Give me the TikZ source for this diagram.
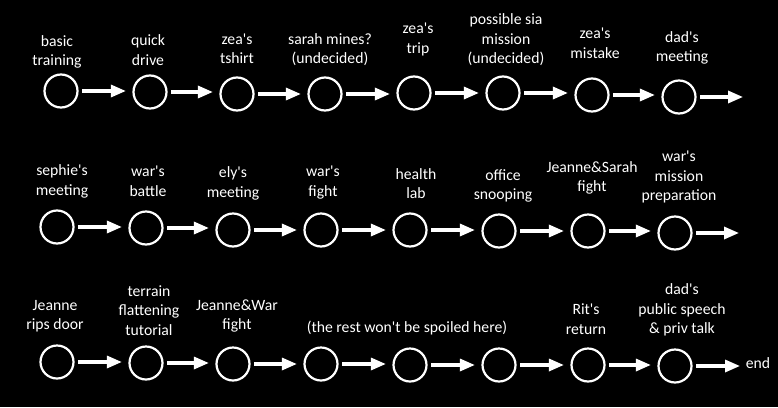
\documentclass[tikz,border=0pt]{standalone}
\usepackage{fontspec}
\setmainfont{Carlito}
\usetikzlibrary{arrows.meta}
\newcommand\aps{\textquotesingle}
\begin{document}
\begin{tikzpicture}[x=1pt,y=-1pt,
  circ/.style={circle,draw=white,line width=2.2pt,minimum size=33pt,inner sep=0pt},
  lbl/.style={text=white,align=center,inner sep=0pt,font=\fontsize{15.7pt}{19.5pt}\selectfont},
  arr/.style={draw=white,line width=3.2pt,-{Triangle[length=15pt,width=12pt]},shorten <=3.5pt,shorten >=6.5pt},
  arrend/.style={draw=white,line width=3.2pt,-{Triangle[length=15pt,width=12pt]},shorten <=3.5pt}]
\fill[black] (0,0) rectangle (778,407);
\useasboundingbox (0,0) rectangle (778,407);
% row 1
\node[circ] (a1) at (61,91) {};
\node[circ] (a2) at (150,92) {};
\node[circ] (a3) at (237,94) {};
\node[circ] (a4) at (325,94) {};
\node[circ] (a5) at (414,93) {};
\node[circ] (a6) at (503,93) {};
\node[circ] (a7) at (592,95) {};
\node[circ] (a8) at (679,97) {};
\coordinate (ae) at (743,97);
\node[lbl] (la1) at (57,52) {basic\\training};
\node[lbl] (la2) at (148,50) {quick\\drive};
\node[lbl] (la3) at (237,49) {zea\aps s\\tshirt};
\node[lbl] (la4) at (330,49.5) {sarah mines?\\(undecided)};
\node[lbl] (la5) at (418,39.5) {zea\aps s\\trip};
\node[lbl] (la6) at (506,40) {possible sia\\mission\\(undecided)};
\node[lbl] (la7) at (595,43.5) {zea\aps s\\mistake};
\node[lbl] (la8) at (682,48) {dad\aps s\\meeting};
\foreach \i/\j in {1/2,2/3,3/4,4/5,5/6,6/7,7/8} \draw[arr] (a\i.east) -- (a\i.east -| a\j.west);
\draw[arrend] (a8.east) -- (ae);
% row 2
\node[circ] (b1) at (57,227) {};
\node[circ] (b2) at (146,228) {};
\node[circ] (b3) at (233,230) {};
\node[circ] (b4) at (321,230) {};
\node[circ] (b5) at (410,230) {};
\node[circ] (b6) at (499,231) {};
\node[circ] (b7) at (588,231) {};
\node[circ] (b8) at (675,233) {};
\coordinate (be) at (739,233);
\node[lbl] (lb1) at (62,181.5) {sephie\aps s\\meeting};
\node[lbl] (lb2) at (148,181.5) {war\aps s\\battle};
\node[lbl] (lb3) at (233,183.5) {ely\aps s\\meeting};
\node[lbl] (lb4) at (323,182.5) {war\aps s\\fight};
\node[lbl] (lb5) at (416,183.5) {health\\lab};
\node[lbl] (lb6) at (503,186) {office\\snooping};
\node[lbl] (lb7) at (592,178) {Jeanne\&Sarah\\fight};
\node[lbl] (lb8) at (679,177) {war\aps s\\mission\\preparation};
\foreach \i/\j in {1/2,2/3,3/4,4/5,5/6,6/7,7/8} \draw[arr] (b\i.east) -- (b\i.east -| b\j.west);
\draw[arrend] (b8.east) -- (be);
% row 3
\node[circ] (c1) at (57,362) {};
\node[circ] (c2) at (146,363) {};
\node[circ] (c3) at (233,364) {};
\node[circ] (c4) at (321,364) {};
\node[circ] (c5) at (410,365) {};
\node[circ] (c6) at (499,365) {};
\node[circ] (c7) at (588,365) {};
\node[circ] (c8) at (675,366) {};
\coordinate (ce) at (740,366);
\node[lbl] (lc1) at (55,316) {Jeanne\\rips door};
\node[lbl] (lc2) at (149,310.5) {terrain\\flattening\\tutorial};
\node[lbl] (lc3) at (237,316) {Jeanne\&War\\fight};
\node[lbl] (lc4) at (407,328) {(the rest won\aps t be spoiled here)};
\node[lbl] (lc5) at (586,319) {Rit\aps s\\return};
\node[lbl] (lc6) at (682,310) {dad\aps s\\public speech\\\& priv talk};
\node[lbl] (lce) at (758,363) {end};
\foreach \i/\j in {1/2,2/3,3/4,4/5,5/6,6/7,7/8} \draw[arr] (c\i.east) -- (c\i.east -| c\j.west);
\draw[arrend] (c8.east) -- (ce);
\end{tikzpicture}
\end{document}
